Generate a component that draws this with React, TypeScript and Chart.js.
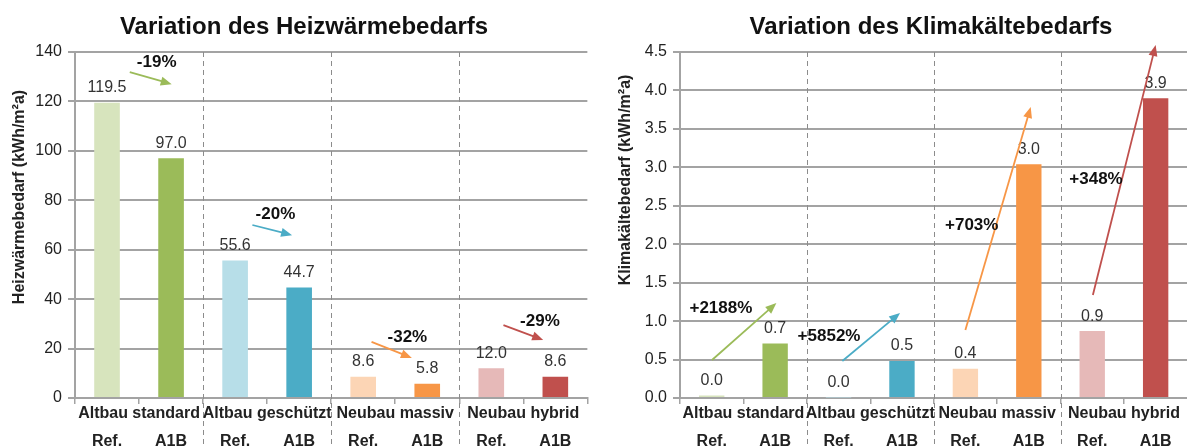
import React, { useEffect, useRef } from "react";
import { Chart, registerables } from "chart.js";
Chart.register(...registerables);

const barLabels = ["Ref.", "A1B", "Ref.", "A1B", "Ref.", "A1B", "Ref.", "A1B"];
const groupLabels = ["Altbau standard", "Altbau geschützt", "Neubau massiv", "Neubau hybrid"];
const heatValues = [119.5, 97.0, 55.6, 44.7, 8.6, 5.8, 12.0, 8.6];
const coolValues = [0.031, 0.71, 0.008, 0.48, 0.38, 3.04, 0.87, 3.9];
const barColors = ["#d7e4bd", "#9bbb59", "#b7dee8", "#4bacc6", "#fcd5b5", "#f79646", "#e6b9b8", "#c0504d"];
const heatAxis = { max: 140, step: 20, decimals: 0 };
const coolAxis = { max: 4.5, step: 0.5, decimals: 1 };
const heatChanges = ["-19%", "-20%", "-32%", "-29%"];
const coolChanges = ["+2188%", "+5852%", "+703%", "+348%"];
const arrowColors = ["#9bbb59", "#4bacc6", "#f79646", "#c0504d"];
// arrow annotations in data units: [x1, y1, x2, y2, labelX, labelY]
const heatArrows = [
  [0.355, 131.9, 1.01, 127.0, 0.775, 135.9],
  [2.27, 70.0, 2.89, 65.9, 2.63, 74.4],
  [4.13, 22.7, 4.76, 16.2, 4.69, 24.7],
  [6.19, 29.5, 6.81, 23.5, 6.76, 31.2],
];
const coolArrows = [
  [0.005, 0.494, 1.02, 1.236, 0.145, 1.17],
  [2.06, 0.481, 2.97, 1.105, 1.85, 0.806],
  [4.0, 0.884, 5.03, 3.785, 4.1, 2.25],
  [6.01, 1.34, 7.0, 4.59, 6.06, 2.85],
];

const FONT = "'Liberation Sans', Arial, sans-serif";
const GRID = "#a3a3a3";
const TEXT = "#222222";

type Cfg = {
  values: number[];
  axis: { max: number; step: number; decimals: number };
  changes: string[];
  arrows: number[][];
  title: string;
  titleX: number;
  yTitle: string;
  yTitleX: number;
  yTitleY: number;
  yWidth: number;
  padRight: number;
  width: number;
};

const overlayPlugin = {
  id: "overlay",
  afterDraw(chart: any, _args: any, o: any) {
    const cfg: Cfg = o.cfg;
    const { ctx, chartArea, scales } = chart;
    const x = scales.x;
    const y = scales.y;
    ctx.save();
    // dashed group separators
    ctx.strokeStyle = "#8c8c8c";
    ctx.lineWidth = 1;
    ctx.setLineDash([5, 4]);
    for (const b of [1.5, 3.5, 5.5]) {
      const px = Math.round(x.getPixelForValue(b)) + 0.5;
      ctx.beginPath();
      ctx.moveTo(px, chartArea.top);
      ctx.lineTo(px, chart.height);
      ctx.stroke();
    }
    ctx.setLineDash([]);

    // group labels
    ctx.fillStyle = TEXT;
    ctx.font = `bold 16px ${FONT}`;
    ctx.textAlign = "center";
    ctx.textBaseline = "middle";
    groupLabels.forEach((g, i) => {
      const cx = (x.getPixelForValue(2 * i) + x.getPixelForValue(2 * i + 1)) / 2;
      ctx.fillText(g, cx, 414);
    });

    // value labels
    ctx.font = `16px ${FONT}`;
    ctx.fillStyle = "#333333";
    const meta = chart.getDatasetMeta(0);
    meta.data.forEach((bar: any, i: number) => {
      ctx.fillText(cfg.values[i].toFixed(1), bar.x, bar.y - 15);
    });

    // arrows with change labels
    cfg.arrows.forEach((a, i) => {
      const x1 = x.getPixelForValue(a[0]);
      const y1 = y.getPixelForValue(a[1]);
      const x2 = x.getPixelForValue(a[2]);
      const y2 = y.getPixelForValue(a[3]);
      const col = arrowColors[i];
      const ang = Math.atan2(y2 - y1, x2 - x1);
      const hl = 11;
      const hw = 4.5;
      ctx.strokeStyle = col;
      ctx.fillStyle = col;
      ctx.lineWidth = 1.8;
      ctx.beginPath();
      ctx.moveTo(x1, y1);
      ctx.lineTo(x2 - Math.cos(ang) * hl * 0.8, y2 - Math.sin(ang) * hl * 0.8);
      ctx.stroke();
      ctx.beginPath();
      ctx.moveTo(x2, y2);
      ctx.lineTo(x2 - Math.cos(ang) * hl - Math.sin(ang) * hw, y2 - Math.sin(ang) * hl + Math.cos(ang) * hw);
      ctx.lineTo(x2 - Math.cos(ang) * hl + Math.sin(ang) * hw, y2 - Math.sin(ang) * hl - Math.cos(ang) * hw);
      ctx.closePath();
      ctx.fill();
      ctx.fillStyle = "#111111";
      ctx.font = `bold 17px ${FONT}`;
      ctx.fillText(cfg.changes[i], x.getPixelForValue(a[4]), y.getPixelForValue(a[5]));
    });

    // chart title
    ctx.fillStyle = "#111111";
    ctx.font = `bold 24px ${FONT}`;
    ctx.fillText(cfg.title, cfg.titleX, 27);

    // y title
    ctx.save();
    ctx.translate(cfg.yTitleX, cfg.yTitleY);
    ctx.rotate(-Math.PI / 2);
    ctx.font = `bold 16px ${FONT}`;
    ctx.fillStyle = TEXT;
    ctx.fillText(cfg.yTitle, 0, 0);
    ctx.restore();

    ctx.restore();
  },
};

function BarPanel({ cfg, left, clipWidth }: { cfg: Cfg; left: number; clipWidth: number }) {
  const ref = useRef<HTMLCanvasElement | null>(null);
  useEffect(() => {
    if (!ref.current) return;
    const chart = new Chart(ref.current, {
      type: "bar",
      data: {
        labels: barLabels,
        datasets: [
          {
            data: cfg.values,
            backgroundColor: barColors,
            borderWidth: 0,
            barPercentage: 0.4,
            categoryPercentage: 1,
          },
        ],
      },
      options: {
        responsive: false,
        animation: false,
        devicePixelRatio: 1,
        layout: { padding: { top: 52, right: cfg.padRight, left: 0, bottom: 0 } },
        plugins: {
          legend: { display: false },
          tooltip: { enabled: false },
          title: { display: false },
          overlay: { cfg },
        } as any,
        scales: {
          x: {
            afterFit: (s: any) => {
              s.height = 50;
            },
            grid: {
              display: true,
              drawOnChartArea: false,
              drawTicks: true,
              tickLength: 6,
              color: GRID,
              lineWidth: 1.5,
            },
            border: { display: true, color: GRID, width: 2 },
            ticks: {
              color: TEXT,
              font: { family: FONT, size: 16, weight: "bold" },
              padding: 28,
              maxRotation: 0,
              autoSkip: false,
            },
          },
          y: {
            min: 0,
            max: cfg.axis.max,
            afterFit: (s: any) => {
              s.width = cfg.yWidth;
            },
            grid: { color: GRID, lineWidth: 2, tickLength: 7 },
            border: { display: true, color: GRID, width: 2 },
            ticks: {
              stepSize: cfg.axis.step,
              color: TEXT,
              padding: 6,
              font: { family: FONT, size: 16 },
              callback: (v: any) => Number(v).toFixed(cfg.axis.decimals),
            },
          },
        },
      },
      plugins: [overlayPlugin],
    });
    return () => chart.destroy();
  }, []);
  return (
    <div style={{ position: "absolute", left, top: 0, width: clipWidth, height: 448, overflow: "hidden" }}>
      <canvas ref={ref} width={cfg.width} height={448} style={{ display: "block" }} />
    </div>
  );
}

const heatCfg: Cfg = {
  values: heatValues,
  axis: heatAxis,
  changes: heatChanges,
  arrows: heatArrows,
  title: "Variation des Heizwärmebedarfs",
  titleX: 304,
  yTitle: "Heizwärmebedarf (kWh/m²a)",
  yTitleX: 20,
  yTitleY: 197,
  yWidth: 75,
  padRight: 10.6,
  width: 600,
};

const coolCfg: Cfg = {
  values: coolValues,
  axis: coolAxis,
  changes: coolChanges,
  arrows: coolArrows,
  title: "Variation des Klimakältebedarfs",
  titleX: 331,
  yTitle: "Klimakältebedarf (kWh/m²a)",
  yTitleX: 26,
  yTitleY: 180,
  yWidth: 80,
  padRight: 5.6,
  width: 600,
};

export default function App() {
  return (
    <div style={{ position: "absolute", left: 0, top: 0, width: 1187, height: 448, background: "#ffffff", overflow: "hidden" }}>
      <BarPanel cfg={heatCfg} left={0} clipWidth={600} />
      <BarPanel cfg={coolCfg} left={600} clipWidth={587} />
    </div>
  );
}
